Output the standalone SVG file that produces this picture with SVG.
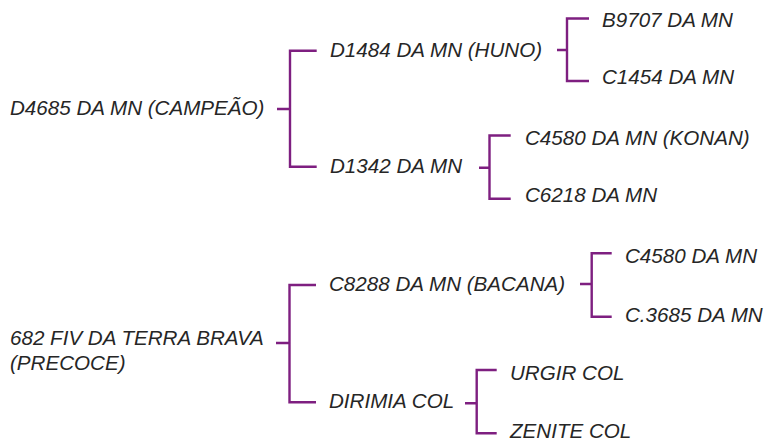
<svg xmlns="http://www.w3.org/2000/svg" width="768" height="441" viewBox="0 0 768 441">
<style>
.t{font-family:"Liberation Sans",Arial,sans-serif;font-style:italic;font-size:20.6px;fill:#262626}
.c{fill:none;stroke:#7e1f80;stroke-width:2.4}
</style>
<rect width="768" height="441" fill="#ffffff"/>
<g id="connectors">
<path class="c" d="M277,109H290M316.7,50.7H290V166.7H316.7"/>
<path class="c" d="M557,50H567M589,18.5H567V81H589"/>
<path class="c" d="M479,167.7H489.5M510.7,135.5H489.5V198.7H510.7"/>
<path class="c" d="M276,343H289.5M316,285H289.5V402.3H316"/>
<path class="c" d="M580,284H591.7M611.7,253.3H591.7V316.7H611.7"/>
<path class="c" d="M465,403.3H476.7M496.7,370H476.7V433.3H496.7"/>
</g>
<g id="n-d4685"><text class="t" x="10" y="115">D4685 DA MN (CAMPEÃO)</text></g>
<g id="n-d1484"><text class="t" x="330" y="56.5">D1484 DA MN (HUNO)</text></g>
<g id="n-d1342"><text class="t" x="330" y="173.3">D1342 DA MN</text></g>
<g id="n-b9707"><text class="t" x="602" y="27">B9707 DA MN</text></g>
<g id="n-c1454"><text class="t" x="602" y="84">C1454 DA MN</text></g>
<g id="n-c4580a"><text class="t" x="525" y="145">C4580 DA MN (KONAN)</text></g>
<g id="n-c6218"><text class="t" x="525" y="201.7">C6218 DA MN</text></g>
<g id="n-682"><text class="t" x="10" y="345">682 FIV DA TERRA BRAVA</text><text class="t" x="10" y="369.5">(PRECOCE)</text></g>
<g id="n-c8288"><text class="t" x="329" y="290.7">C8288 DA MN (BACANA)</text></g>
<g id="n-dirimia"><text class="t" x="329" y="408.3">DIRIMIA COL</text></g>
<g id="n-c4580b"><text class="t" x="625" y="263.3">C4580 DA MN</text></g>
<g id="n-c3685"><text class="t" x="625" y="321.7">C.3685 DA MN</text></g>
<g id="n-urgir"><text class="t" x="510" y="380">URGIR COL</text></g>
<g id="n-zenite"><text class="t" x="510" y="438">ZENITE COL</text></g>
</svg>
